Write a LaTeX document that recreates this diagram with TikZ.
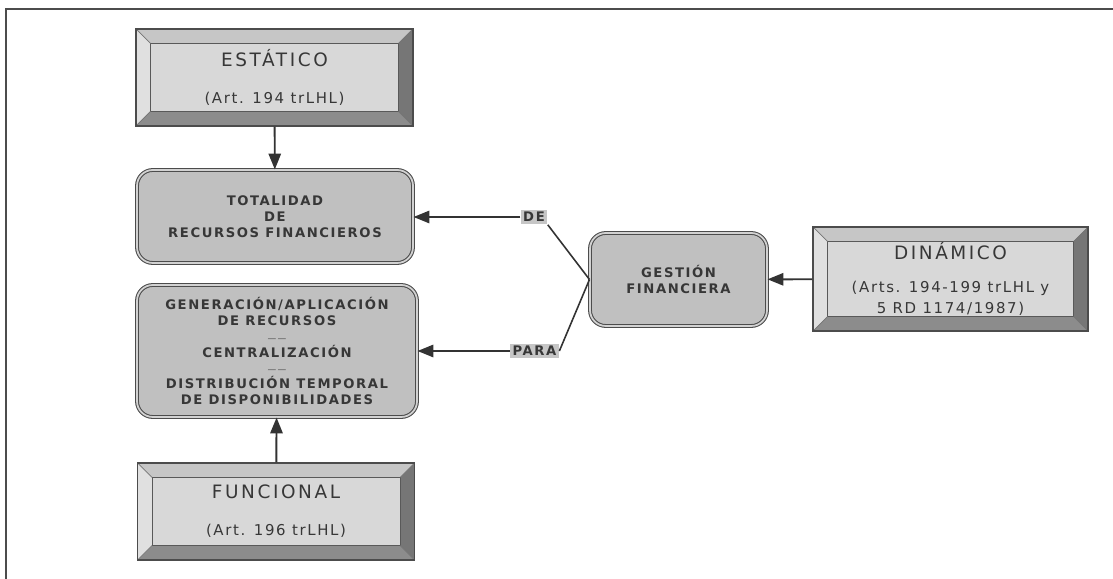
\documentclass[tikz,border=0pt]{standalone}
\usepackage{fontspec}
\usepackage{xcolor}
\setmainfont{DejaVu Sans}
\newfontfamily\capsfont[LetterSpace=12]{DejaVu Sans}
\newfontfamily\titlefont[LetterSpace=14]{DejaVu Sans}
\newfontfamily\subfont[LetterSpace=11]{DejaVu Sans}
\usetikzlibrary{positioning,arrows.meta}
\definecolor{bevtop}{RGB}{198,198,198}
\definecolor{bevleft}{RGB}{224,224,224}
\definecolor{bevright}{RGB}{118,118,118}
\definecolor{bevbottom}{RGB}{140,140,140}
\definecolor{bevinner}{RGB}{216,216,216}
\definecolor{roundfill}{RGB}{192,192,192}
\definecolor{tagfill}{RGB}{198,198,198}
\definecolor{inkcolor}{RGB}{55,55,55}
\newcommand{\bevw}{0.29cm}
\tikzset{
  bevel box/.style={
    rectangle,
    draw=black!70,
    line width=0.6pt,
    fill=bevinner,
    minimum width=5.54cm,
    minimum height=1.94cm,
    align=center,
    text=inkcolor,
    font=\titlefont\fontsize{10.5}{12}\selectfont,
    path picture={
      \coordinate (bnw) at (path picture bounding box.north west);
      \coordinate (bne) at (path picture bounding box.north east);
      \coordinate (bsw) at (path picture bounding box.south west);
      \coordinate (bse) at (path picture bounding box.south east);
      \coordinate (inw) at ([xshift=\bevw,yshift=-\bevw]bnw);
      \coordinate (ine) at ([xshift=-\bevw,yshift=-\bevw]bne);
      \coordinate (isw) at ([xshift=\bevw,yshift=\bevw]bsw);
      \coordinate (ise) at ([xshift=-\bevw,yshift=\bevw]bse);
      \fill[bevtop] (bnw) -- (bne) -- (ine) -- (inw) -- cycle;
      \fill[bevleft] (bnw) -- (inw) -- (isw) -- (bsw) -- cycle;
      \fill[bevright] (bne) -- (ine) -- (ise) -- (bse) -- cycle;
      \fill[bevbottom] (bsw) -- (isw) -- (ise) -- (bse) -- cycle;
      \draw[black!65, line width=0.5pt] (inw) rectangle (ise);
      \draw[black!55, line width=0.4pt] (bnw) -- (inw) (bne) -- (ine)
        (bsw) -- (isw) (bse) -- (ise);
    }
  },
  round box/.style={
    rectangle,
    rounded corners=9pt,
    draw=black!70,
    line width=0.6pt,
    double=gray!35,
    double distance=1pt,
    fill=roundfill,
    align=center,
    text=inkcolor,
    font=\capsfont\bfseries\fontsize{7.5}{9}\selectfont
  },
  tag/.style={
    rectangle,
    fill=tagfill,
    inner sep=1.5pt,
    text=inkcolor,
    font=\capsfont\bfseries\fontsize{7.5}{8}\selectfont
  },
  arrow/.style={
    -{Triangle[length=9pt,width=7pt]},
    line width=1.1pt,
    draw=black!80
  },
  link/.style={
    line width=0.9pt,
    draw=black!80
  }
}
\newcommand{\subtxt}[1]{{\subfont\fontsize{8.5}{9.5}\selectfont #1}}
\newcommand{\sepline}{{\color{gray}\fontsize{5}{9}\selectfont ——}}

\begin{document}
\begin{tikzpicture}
  \useasboundingbox (0,0) rectangle (22.26,11.58);
  % frame
  \draw[black!70, line width=1pt] (0.12,0) -- (0.12,11.40) -- (22.26,11.40);

  % left column
  \node[bevel box] (est) at (5.49,10.03) {ESTÁTICO\\[9pt]\subtxt{(Art. 194 trLHL)}};
  \node[round box, minimum width=5.52cm, minimum height=1.86cm] (tot) at (5.50,7.25)
    {TOTALIDAD\\DE\\RECURSOS FINANCIEROS};
  \node[round box, minimum width=5.6cm, minimum height=2.64cm] (gen) at (5.54,4.56)
    {GENERACIÓN/APLICACIÓN\\DE RECURSOS\\\sepline\\CENTRALIZACIÓN\\\sepline\\DISTRIBUCIÓN TEMPORAL\\DE DISPONIBILIDADES};
  \node[bevel box] (fun) at (5.52,1.35) {FUNCIONAL\\[9pt]\subtxt{(Art. 196 trLHL)}};

  % right side
  \node[round box, minimum width=3.54cm, minimum height=1.86cm] (ges) at (13.57,5.99)
    {GESTIÓN\\FINANCIERA};
  \node[bevel box, minimum width=5.5cm, minimum height=2.08cm] (din) at (19.01,6.0)
    {DINÁMICO\\[7pt]\subtxt{(Arts. 194-199 trLHL y}\\\subtxt{5 RD 1174/1987)}};

  % tags
  \node[tag] (de) at (10.68,7.24) {DE};
  \node[tag] (para) at (10.69,4.56) {PARA};

  % connectors
  \draw[arrow] (est) -- (tot);
  \draw[arrow] (fun) -- (gen);
  \draw[arrow] (din) -- (ges);
  \draw[arrow] (de) -- (tot.east |- de);
  \draw[arrow] (para) -- (gen.east |- para);
  \draw[link] (de.south east) -- (ges.west);
  \draw[link] (para.east) -- (ges.west);
\end{tikzpicture}
\end{document}
